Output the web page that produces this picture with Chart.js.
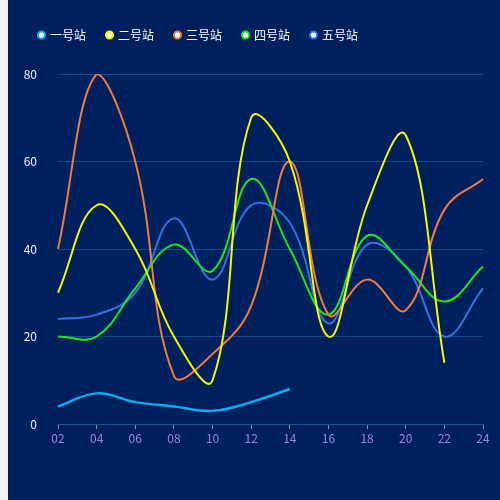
<!DOCTYPE html>
<html>
<head>
<meta charset="utf-8">
<script src="https://cdn.jsdelivr.net/npm/chart.js@4"></script>
<style>
  html, body { margin: 0; padding: 0; background: #f2f3f7; }
  #wrap { position: absolute; left: 8px; top: 0; width: 492px; height: 500px; background: #01215e; }
</style>
</head>
<body>
<div id="wrap"><canvas id="line-chart" width="492" height="500"></canvas></div>
<script>
var hours = ["02", "04", "06", "08", "10", "12", "14", "16", "18", "20", "22", "24"];
var station1 = [4, 7, 5, 4, 3, 5, 8, null, null, null, null, null];
var station2 = [30, 50, 40, 20, 10, 70, 60, 20, 50, 66, 14, null];
var station3 = [40, 80, 60, 11, 16, 27, 60, 25, 33, 26, 49, 56];
var station4 = [20, 20, 31, 41, 35, 56, 40, 25, 43, 36, 28, 36];
var station5 = [24, 25, 30, 47, 33, 50, 46, 23, 41, 36, 20, 31];
var yTicks = [0, 20, 40, 60, 80];

var names = ["一号站", "二号站", "三号站", "四号站", "五号站"];
var colors = ["#05aef0", "#f7f700", "#ef7d3c", "#1de61d", "#3173e6"];

window.onload = main;

function main(){
    var series = [station1, station2, station3, station4, station5];
    var datasets = series.map(function (s, i) {
        return {
            label: names[i],
            data: s,
            borderColor: colors[i],
            backgroundColor: colors[i],
            borderWidth: i === 0 ? 2.5 : 2,
            pointRadius: 0,
            tension: 0.4,
            fill: false
        };
    });

    // push the plot area down below the legend
    var legendGap = {
        id: "legendGap",
        beforeInit: function (chart) {
            var fit = chart.legend.fit;
            chart.legend.fit = function () {
                fit.bind(chart.legend)();
                this.height += 23;
            };
        }
    };

    new Chart(document.getElementById("line-chart"), {
        type: "line",
        data: { labels: hours, datasets: datasets },
        plugins: [legendGap],
        options: {
            responsive: false,
            animation: false,
            layout: { padding: { left: 10, right: 17, top: 8, bottom: 50 } },
            plugins: {
                tooltip: { enabled: false },
                legend: {
                    align: "start",
                    labels: {
                        color: "#ffffff",
                        font: { size: 12, family: "'Noto Sans CJK SC', sans-serif" },
                        usePointStyle: true,
                        pointStyle: "circle",
                        boxWidth: 5,
                        boxHeight: 5,
                        padding: 21,
                        generateLabels: function (chart) {
                            return chart.data.datasets.map(function (ds, i) {
                                return {
                                    text: ds.label,
                                    fillStyle: "#ffffff",
                                    strokeStyle: ds.borderColor,
                                    lineWidth: 2,
                                    pointStyle: "circle",
                                    fontColor: "#ffffff",
                                    datasetIndex: i
                                };
                            });
                        }
                    }
                }
            },
            scales: {
                x: {
                    offset: false,
                    grid: { drawOnChartArea: false, drawTicks: true, tickLength: 5, color: "#8a8fa0" },
                    border: { display: true, color: "#1d5796", width: 1 },
                    ticks: {
                        color: "#9a86e8",
                        padding: 2,
                        maxRotation: 0,
                        autoSkip: false,
                        font: { size: 12, family: "'Noto Sans CJK SC', sans-serif" }
                    },
                    afterFit: function (scale) { scale.height = 26; }
                },
                y: {
                    min: 0,
                    max: 80,
                    afterBuildTicks: function (scale) {
                        scale.ticks = yTicks.map(function (v) { return { value: v }; });
                    },
                    grid: { color: "#0d4a86", drawTicks: false, lineWidth: 1 },
                    border: { display: false },
                    ticks: {
                        color: "#eef0f6",
                        padding: 21,
                        font: { size: 12, family: "'Noto Sans CJK SC', sans-serif" }
                    },
                    afterFit: function (scale) { scale.width = 40; }
                }
            }
        }
    });
}
</script>
</body>
</html>
